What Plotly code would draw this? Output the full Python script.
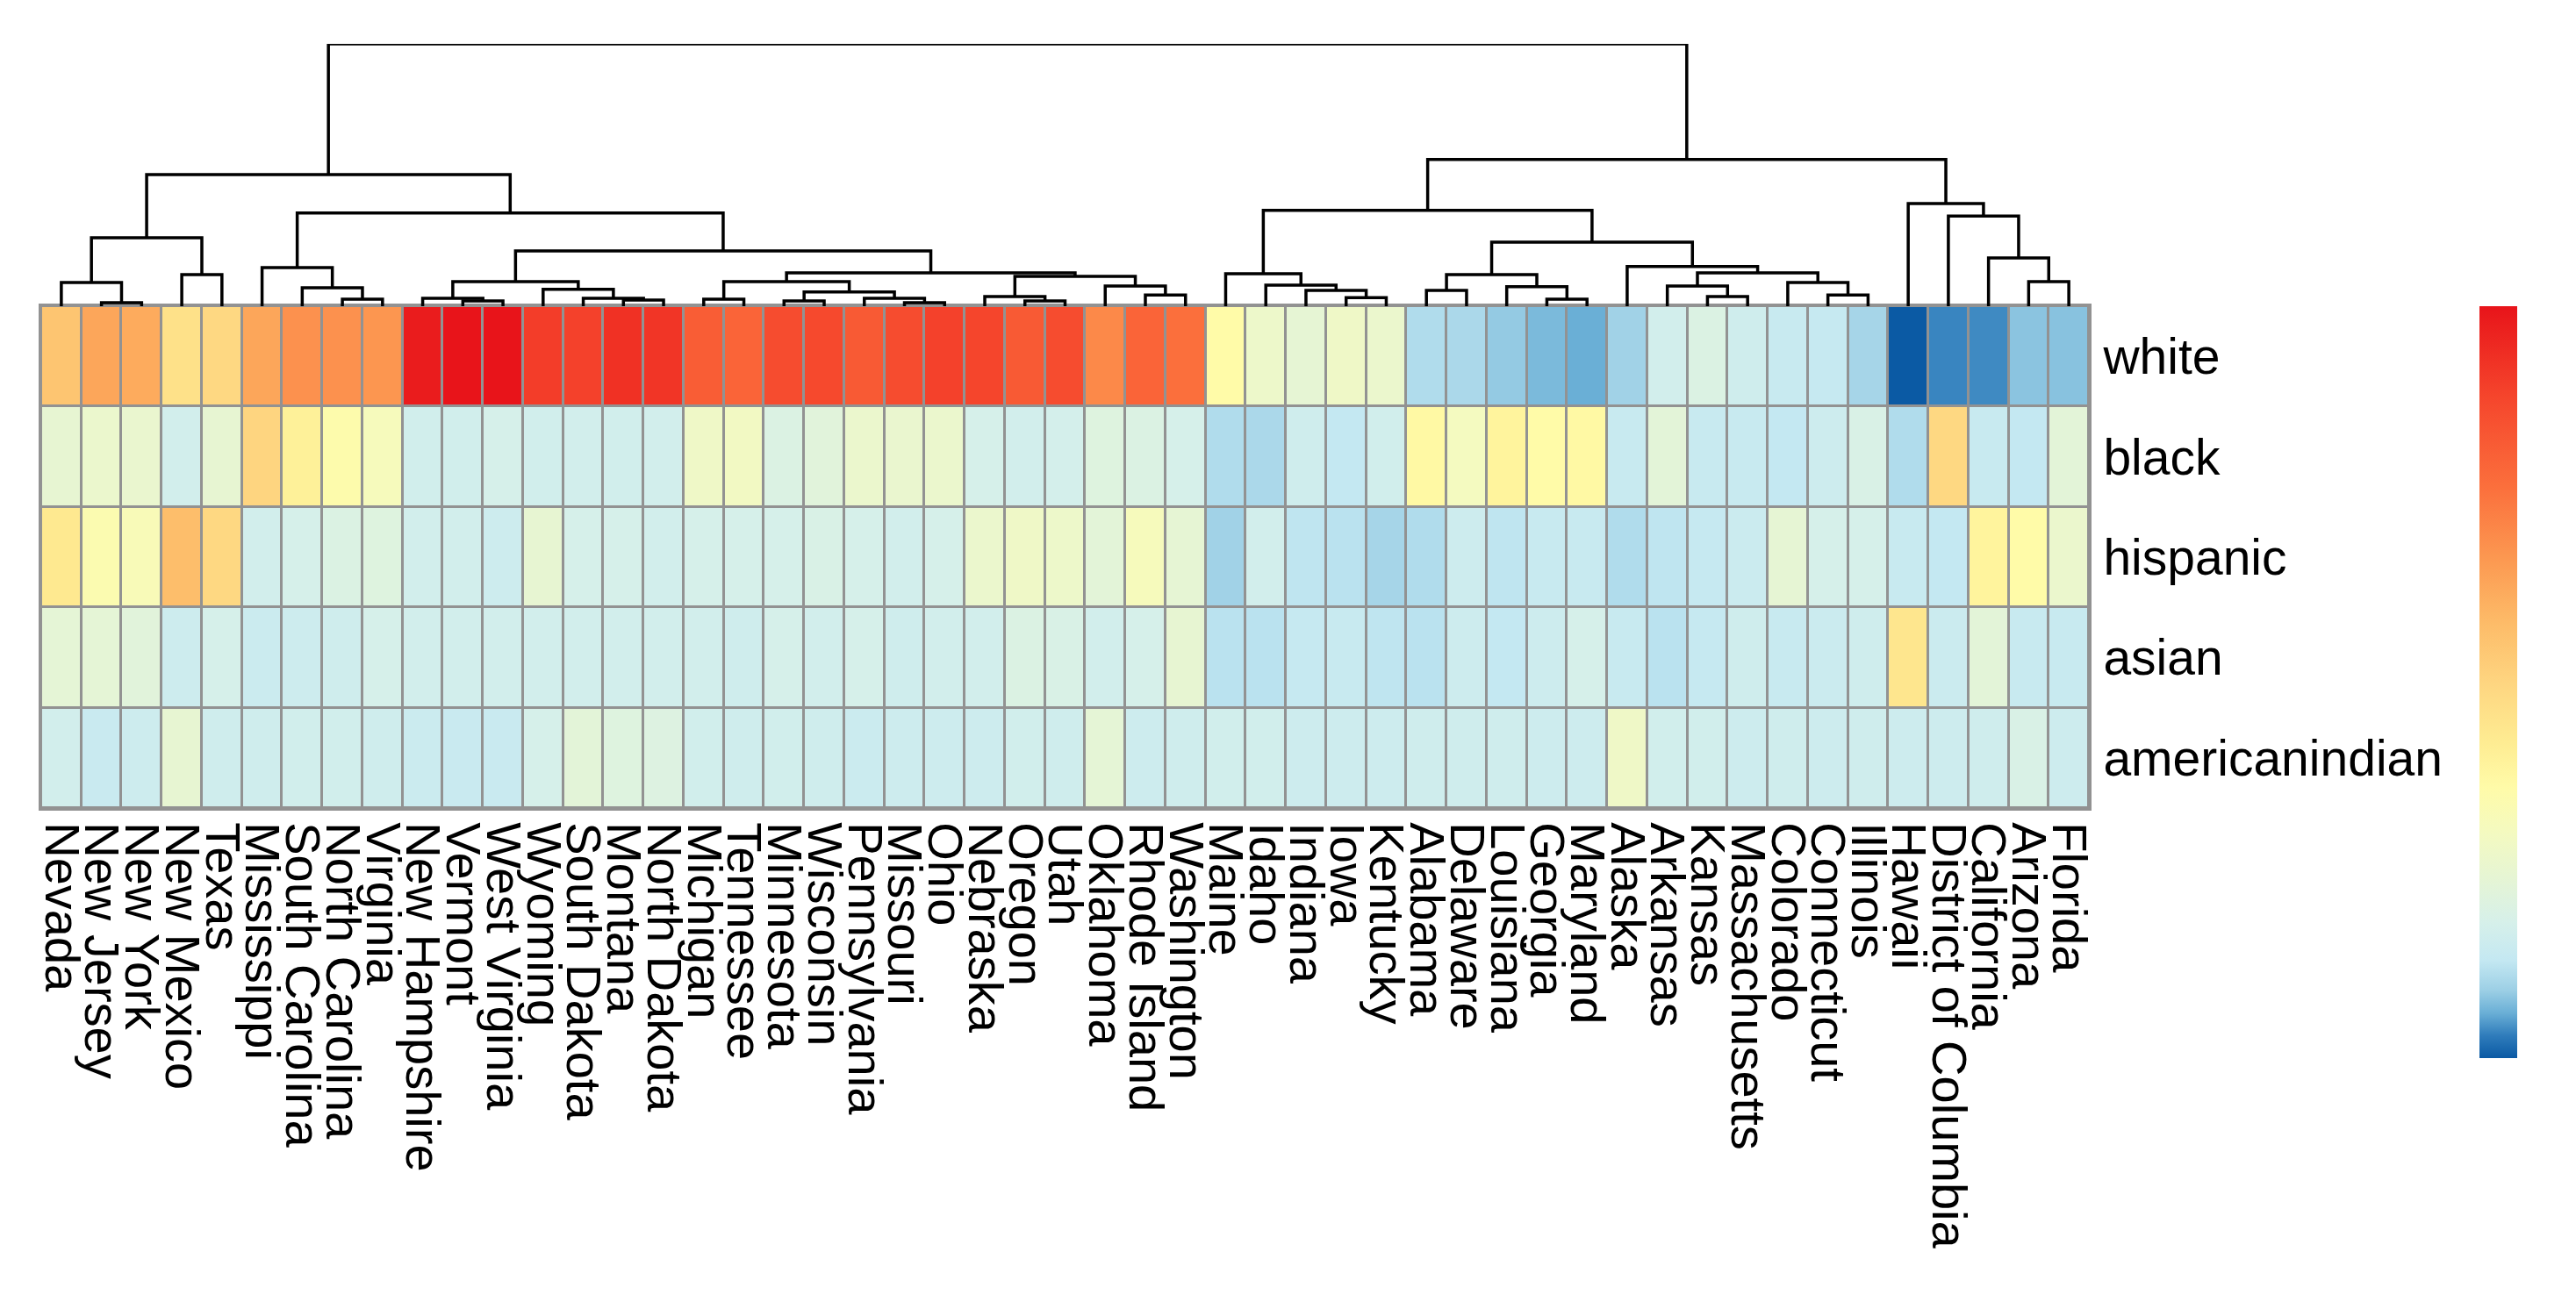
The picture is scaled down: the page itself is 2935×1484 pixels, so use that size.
import plotly.graph_objects as go

states = [
    "Nevada", "New Jersey", "New York", "New Mexico", "Texas", "Mississippi",
    "South Carolina", "North Carolina", "Virginia", "New Hampshire", "Vermont",
    "West Virginia", "Wyoming", "South Dakota", "Montana", "North Dakota",
    "Michigan", "Tennessee", "Minnesota", "Wisconsin", "Pennsylvania", "Missouri",
    "Ohio", "Nebraska", "Oregon", "Utah", "Oklahoma", "Rhode Island", "Washington",
    "Maine", "Idaho", "Indiana", "Iowa", "Kentucky", "Alabama", "Delaware",
    "Louisiana", "Georgia", "Maryland", "Alaska", "Arkansas", "Kansas",
    "Massachusetts", "Colorado", "Connecticut", "Illinois", "Hawaii",
    "District of Columbia", "California", "Arizona", "Florida",
]
races = ["white", "black", "hispanic", "asian", "americanindian"]

# cell values (relative score, 0 = bottom of the colour key, 1 = top)
white = [
    0.55, 0.63, 0.62, 0.46, 0.49, 0.63, 0.68, 0.68, 0.67, 0.98, 1.00, 1.00, 0.90,
    0.89, 0.93, 0.92, 0.81, 0.79, 0.86, 0.87, 0.82, 0.86, 0.89, 0.88, 0.82, 0.86,
    0.70, 0.79, 0.76, 0.36, 0.27, 0.24, 0.28, 0.26, 0.11, 0.105, 0.085, 0.07, 0.06,
    0.095, 0.17, 0.20, 0.16, 0.14, 0.135, 0.10, 0.00, 0.035, 0.038, 0.08, 0.078,
]
black = [
    0.245, 0.26, 0.255, 0.17, 0.245, 0.50, 0.40, 0.35, 0.31, 0.165, 0.165, 0.18,
    0.165, 0.17, 0.165, 0.17, 0.28, 0.29, 0.20, 0.22, 0.26, 0.255, 0.26, 0.18, 0.17,
    0.175, 0.21, 0.20, 0.18, 0.11, 0.105, 0.16, 0.13, 0.165, 0.37, 0.30, 0.39, 0.36,
    0.37, 0.14, 0.23, 0.14, 0.14, 0.13, 0.155, 0.19, 0.11, 0.49, 0.14, 0.13, 0.23,
]
hispanic = [
    0.43, 0.34, 0.32, 0.57, 0.49, 0.17, 0.18, 0.20, 0.21, 0.17, 0.17, 0.155, 0.245,
    0.18, 0.18, 0.17, 0.18, 0.18, 0.18, 0.19, 0.18, 0.17, 0.18, 0.26, 0.28, 0.27,
    0.23, 0.31, 0.24, 0.095, 0.17, 0.125, 0.12, 0.10, 0.11, 0.155, 0.125, 0.14, 0.14,
    0.11, 0.125, 0.135, 0.15, 0.24, 0.18, 0.18, 0.14, 0.13, 0.39, 0.36, 0.26,
]
asian = [
    0.235, 0.235, 0.22, 0.155, 0.18, 0.15, 0.155, 0.16, 0.18, 0.17, 0.17, 0.17, 0.17,
    0.17, 0.17, 0.17, 0.17, 0.16, 0.18, 0.17, 0.18, 0.16, 0.17, 0.17, 0.20, 0.19,
    0.17, 0.18, 0.245, 0.12, 0.12, 0.135, 0.14, 0.125, 0.12, 0.155, 0.13, 0.155,
    0.18, 0.14, 0.12, 0.135, 0.16, 0.14, 0.15, 0.16, 0.44, 0.15, 0.23, 0.14, 0.14,
]
americanindian = [
    0.17, 0.145, 0.155, 0.245, 0.16, 0.16, 0.165, 0.165, 0.16, 0.15, 0.145, 0.145,
    0.18, 0.23, 0.21, 0.205, 0.165, 0.16, 0.165, 0.16, 0.15, 0.155, 0.155, 0.155,
    0.165, 0.16, 0.235, 0.155, 0.16, 0.165, 0.165, 0.155, 0.155, 0.155, 0.16, 0.16,
    0.16, 0.155, 0.155, 0.28, 0.165, 0.165, 0.155, 0.16, 0.155, 0.16, 0.155, 0.155,
    0.16, 0.19, 0.155,
]

# column clustering, linkage style: (left, right, height);
# ids >= len(states) point at earlier merges
merges = [
    (1, 2, 1.3), (0, 51, 9.0), (3, 4, 12.0), (52, 53, 26.1),
    (7, 8, 2.7), (6, 55, 7.0), (5, 56, 14.7),
    (10, 11, 2.0), (9, 58, 3.0), (14, 15, 2.3), (13, 60, 3.0), (12, 61, 6.4),
    (59, 62, 9.4),
    (16, 17, 2.7), (18, 19, 2.0), (21, 22, 1.3), (20, 66, 3.0), (65, 67, 5.4),
    (64, 68, 9.4),
    (24, 25, 2.0), (23, 70, 3.7), (27, 28, 4.3), (26, 72, 7.7), (71, 73, 11.4),
    (69, 74, 12.7), (63, 75, 21.1), (57, 76, 35.5), (54, 77, 50.2),
    (32, 33, 3.3), (31, 79, 6.0), (30, 80, 8.0), (29, 81, 12.4),
    (34, 35, 6.0), (37, 38, 2.7), (36, 84, 7.4), (83, 85, 12.0),
    (41, 42, 3.7), (40, 87, 7.7), (44, 45, 4.3), (43, 89, 9.0), (88, 90, 12.7),
    (39, 91, 15.1), (86, 92, 24.4), (82, 93, 36.5),
    (49, 50, 9.4), (48, 95, 18.4), (47, 96, 34.4), (46, 97, 39.1),
    (94, 98, 55.9), (78, 99, 100.0),
]

W, H = 2935, 1484
LEFT, RIGHT = 39, 2372          # heatmap edges, px
TOP, BOTTOM, ROOT = 341, 913, 42
FONT = "Liberation Sans, Arial, sans-serif"
GRID = "#929292"

colorscale = [
    [0.00, "#0b5aa4"], [0.03, "#2f7cbb"], [0.06, "#6aafd6"], [0.09, "#9ccfe5"],
    [0.13, "#c4e8f2"], [0.18, "#d6f0ea"], [0.24, "#e6f5d4"], [0.30, "#f4fac0"],
    [0.36, "#fffba8"], [0.42, "#feec92"], [0.50, "#fed580"], [0.58, "#fdbb68"],
    [0.66, "#fc9a52"], [0.76, "#fb6f3c"], [0.88, "#f5452c"], [1.00, "#e8141a"],
]


def dendro_lines(merges, n):
    pos = {i: (float(i), 0.0) for i in range(n)}
    xs, ys = [], []
    for k, (a, b, h) in enumerate(merges):
        xa, ha = pos[a]
        xb, hb = pos[b]
        xs += [xa, xa, xb, xb, None]
        ys += [ha, h, h, hb, None]
        pos[n + k] = ((xa + xb) / 2, h)
    return xs, ys


z = [white, black, hispanic, asian, americanindian]
dx, dy = dendro_lines(merges, len(states))

fig = go.Figure()
fig.add_trace(
    go.Heatmap(
        z=z,
        x=states,
        y=races,
        zmin=0,
        zmax=1,
        colorscale=colorscale,
        xgap=3,
        ygap=3,
        hoverongaps=False,
        colorbar=dict(
            x=2817 / W, xanchor="left", y=1 - TOP / H, yanchor="top",
            len=(1198 - TOP) / H, lenmode="fraction",
            thickness=43, thicknessmode="pixels",
            showticklabels=False, ticks="", outlinewidth=0, xpad=0, ypad=0,
        ),
    )
)
fig.add_trace(
    go.Scatter(
        x=dx, y=dy, mode="lines", xaxis="x2", yaxis="y2",
        line=dict(color="black", width=3.5), hoverinfo="skip", showlegend=False,
    )
)

# grey fill under the cells so the gaps read as cell borders
fig.add_shape(
    type="rect", xref="x", yref="y", x0=-0.5, x1=len(states) - 0.5,
    y0=-0.5, y1=len(races) - 0.5, layer="below",
    fillcolor=GRID, line=dict(width=0),
)

xdom = [LEFT / W, RIGHT / W]
fig.update_layout(
    width=W,
    height=H,
    template="none",
    margin=dict(l=0, r=0, t=0, b=0),
    paper_bgcolor="white",
    plot_bgcolor="white",
    font=dict(family=FONT, color="black"),
    showlegend=False,
    xaxis=dict(
        domain=xdom, tickangle=90, ticks="", showgrid=False, zeroline=False,
        tickmode="array", tickvals=states, ticktext=states,
        tickfont=dict(size=56, family=FONT), ticklabelstandoff=2,
        showline=True, mirror=True, linecolor=GRID, linewidth=3,
        range=[-0.5, len(states) - 0.5], automargin=False,
    ),
    yaxis=dict(
        domain=[1 - BOTTOM / H, 1 - TOP / H], side="right", autorange="reversed",
        ticks="", showgrid=False, zeroline=False,
        tickfont=dict(size=57, family=FONT), ticklabelstandoff=2,
        showline=True, mirror=True, linecolor=GRID, linewidth=3,
        automargin=False,
    ),
    xaxis2=dict(
        domain=xdom, anchor="y2", range=[-0.5, len(states) - 0.5],
        visible=False, showgrid=False, zeroline=False,
    ),
    yaxis2=dict(
        domain=[1 - TOP / H, 1 - ROOT / H], anchor="x2", range=[0, 100],
        visible=False, showgrid=False, zeroline=False,
    ),
)

fig.write_html("out.html")
